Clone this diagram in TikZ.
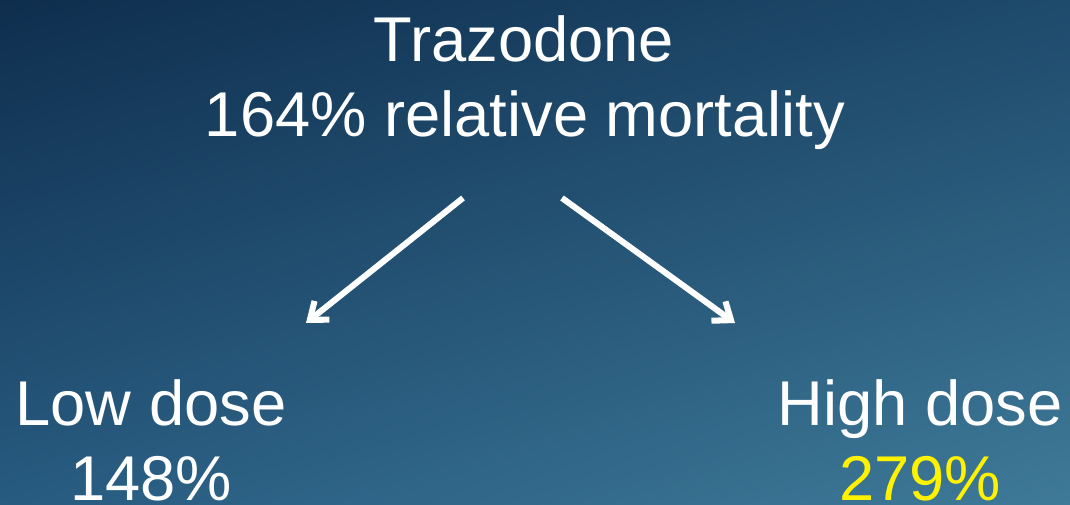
\documentclass[tikz,border=0pt]{standalone}
\usepackage{fontspec}
\setmainfont{Liberation Sans}
\usetikzlibrary{arrows.meta}
\usetikzlibrary{shadings}
\usetikzlibrary{positioning}

\definecolor{fondoA}{HTML}{0F2E4E}
\definecolor{fondoB}{HTML}{1E4A6C}
\definecolor{fondoC}{HTML}{275B80}
\definecolor{fondoD}{HTML}{3F7A98}

\begin{document}
\begin{tikzpicture}[x=0.025cm,y=-0.025cm,
	txt/.style={text=white,inner sep=0pt,anchor=base,font=\fontsize{45}{54}\selectfont},
	flecha/.style={draw=white,line width=4.3pt,-{Straight Barb[length=11pt,width=17pt]}}]
	
% fondo
	\useasboundingbox (0,0) rectangle (1070,505);
	\shade[upper left=fondoA,upper right=fondoB,lower left=fondoC,lower right=fondoD] (0,0) rectangle (1070,505);

% textos
	\node[txt] (drug) at (524,62) {Trazodone};
	\node[txt] (drugrate) at (525,137) {164\% relative mortality};
	\node[txt] (low) at (151,425) {Low dose};
	\node[txt] (lowrate) at (151,500) {148\%};
	\node[txt] (high) at (920,425) {High dose};
	\node[txt,text=yellow] (highrate) at (920,500) {279\%};

% flechas
	\coordinate (ltail) at (463,198);
	\coordinate (lhead) at (306,323);
	\coordinate (rtail) at (562,198);
	\coordinate (rhead) at (735,323);
	\draw[flecha] (ltail) -- (lhead);
	\draw[flecha] (rtail) -- (rhead);
\end{tikzpicture}
\end{document}
